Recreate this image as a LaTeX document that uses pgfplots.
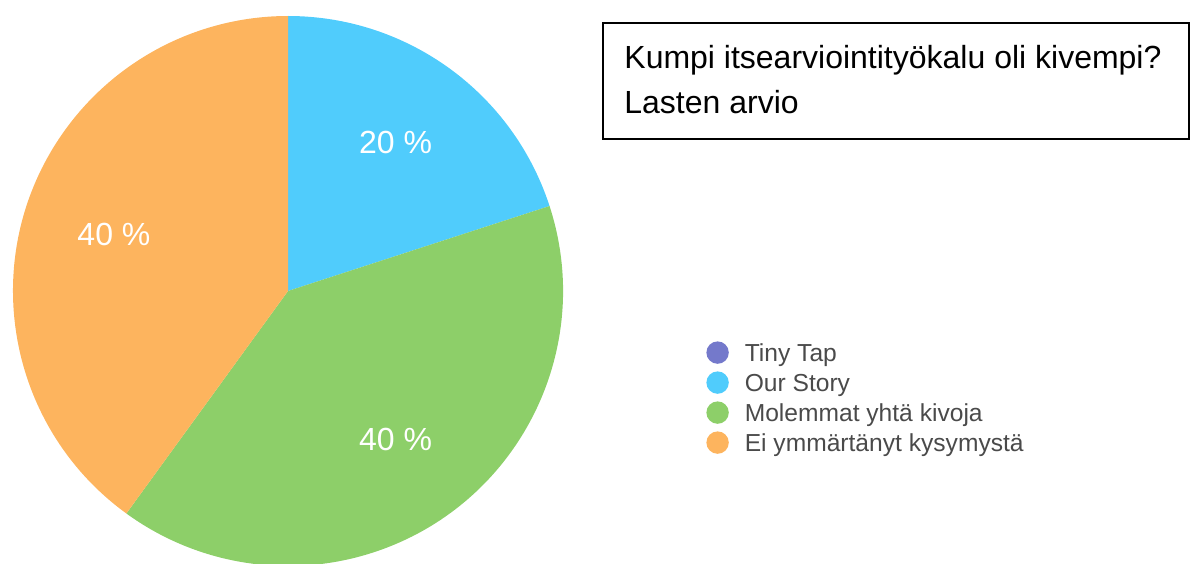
\documentclass[border=0pt]{standalone}
\usepackage{pgfplots}
\usepackage{pgfplotstable}
\pgfplotsset{compat=1.18}
\usepackage{fontspec}
\setmainfont{Liberation Sans}
\definecolor{slice0}{HTML}{7479CB}
\definecolor{slice1}{HTML}{50CCFC}
\definecolor{slice2}{HTML}{8DCF69}
\definecolor{slice3}{HTML}{FDB45E}
\definecolor{legtext}{HTML}{4A4A4A}

\pgfplotstableread{
idx value
0 0
1 20
2 40
3 40
}\piedata

\begin{document}
\begin{tikzpicture}
\begin{axis}[
  scale only axis,
  width=597.5pt, height=281.5pt,
  xmin=0, xmax=1195, ymin=0, ymax=563,
  hide axis,
  clip=true,
  legend style={at={(axis cs:700,228)}, anchor=north west, draw=none, fill=none,
    font=\fontsize{12.3}{14}\selectfont\color{legtext},
    row sep=0pt,
    nodes={text height=9.5pt, text depth=2.5pt, inner ysep=1.5pt, inner xsep=1pt},
    /tikz/every odd column/.append style={column sep=7pt},
  },
  legend cell align=left,
  legend image code/.code={\fill[#1] (0pt,0.9pt) circle[radius=5.6pt];},
]
\path (axis cs:0,0) rectangle (axis cs:1195,563);
\pgfmathsetmacro\cum{0}
\pgfplotsforeachungrouped \i in {0,...,3}{%
  \pgfplotstablegetelem{\i}{value}\of\piedata
  \let\v=\pgfplotsretval
  \pgfmathsetmacro\a{90-3.6*\cum}%
  \pgfmathsetmacro\b{90-3.6*(\cum+\v)}%
  \pgfmathsetmacro\m{(\a+\b)/2}%
  \pgfmathsetmacro\cum{\cum+\v}%
  \pgfmathtruncatemacro\vi{\v}%
  \ifnum\vi>0
    \edef\cmd{\noexpand\fill[slice\i] (axis cs:288,272) -- (axis cs:{288+275*cos(\a)},{272+275*sin(\a)}) arc[start angle=\a, end angle=\b, radius=275] -- cycle;
      \noexpand\node[text=white, font=\noexpand\fontsize{16}{19}\noexpand\selectfont] at (axis cs:{288+183*cos(\m)},{272+183*sin(\m)}) {\vi\space\noexpand\%};}%
    \cmd
  \fi
}
\draw[line width=1pt] (axis cs:603,540) rectangle (axis cs:1189,424);
\node[anchor=base west, inner sep=0pt, font=\fontsize{16}{19}\selectfont] at (axis cs:624,494) {Kumpi itsearviointityökalu oli kivempi?};
\node[anchor=base west, inner sep=0pt, font=\fontsize{16}{19}\selectfont] at (axis cs:624,449) {Lasten arvio};
\addlegendimage{fill=slice0, draw=none}
\addlegendentry{Tiny Tap}
\addlegendimage{fill=slice1, draw=none}
\addlegendentry{Our Story}
\addlegendimage{fill=slice2, draw=none}
\addlegendentry{Molemmat yhtä kivoja}
\addlegendimage{fill=slice3, draw=none}
\addlegendentry{Ei ymmärtänyt kysymystä}
\end{axis}
\pgfresetboundingbox
\useasboundingbox (0,0) rectangle (597.5pt,281.5pt);
\end{tikzpicture}
\end{document}
